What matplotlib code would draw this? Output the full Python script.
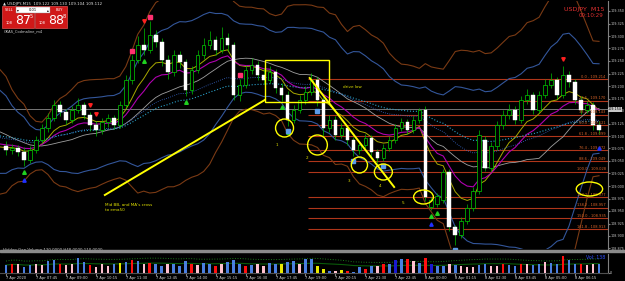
import matplotlib
matplotlib.use('Agg')
import matplotlib.pyplot as plt
from matplotlib.patches import Rectangle, Ellipse
import numpy as np
import pandas as pd

# ---- data (USDJPY M15) ----
pre_closes = [109.180, 109.200, 109.170, 109.150, 109.160, 109.130, 109.120, 109.100, 109.110, 109.090,
              109.080, 109.095, 109.070, 109.060, 109.075, 109.085, 109.065, 109.070, 109.080, 109.075]

opens = [109.080, 109.072, 109.076, 109.068, 109.052, 109.072, 109.092, 109.116, 109.136, 109.162,
         109.148, 109.132, 109.152, 109.162, 109.142, 109.122, 109.112, 109.128, 109.136, 109.122,
         109.162, 109.212, 109.252, 109.282, 109.272, 109.302, 109.288, 109.252, 109.228, 109.262,
         109.248, 109.192, 109.232, 109.262, 109.282, 109.292, 109.272, 109.296, 109.282, 109.182,
         109.202, 109.232, 109.242, 109.222, 109.212, 109.228, 109.196, 109.182, 109.132, 109.152,
         109.172, 109.188, 109.212, 109.172, 109.116, 109.132, 109.102, 109.116, 109.092, 109.072,
         109.082, 109.096, 109.068, 109.056, 109.076, 109.092, 109.116, 109.128, 109.112, 109.132,
         109.152, 108.958, 108.964, 108.972, 109.028, 108.918, 108.902, 108.930, 108.956, 108.990,
         109.092, 109.036, 109.080, 109.122, 109.142, 109.152, 109.132, 109.172, 109.182, 109.152,
         109.182, 109.202, 109.212, 109.182, 109.222, 109.208, 109.172, 109.152, 109.162, 109.122]
highs = [109.090, 109.084, 109.082, 109.078, 109.080, 109.100, 109.124, 109.146, 109.172, 109.170,
         109.154, 109.160, 109.176, 109.168, 109.148, 109.130, 109.136, 109.144, 109.142, 109.170,
         109.222, 109.262, 109.300, 109.316, 109.330, 109.312, 109.296, 109.262, 109.272, 109.270,
         109.254, 109.240, 109.272, 109.296, 109.310, 109.300, 109.318, 109.306, 109.288, 109.214,
         109.242, 109.256, 109.250, 109.236, 109.240, 109.234, 109.206, 109.190, 109.162, 109.182,
         109.200, 109.226, 109.218, 109.178, 109.142, 109.140, 109.126, 109.122, 109.098, 109.090,
         109.104, 109.102, 109.074, 109.084, 109.100, 109.124, 109.136, 109.134, 109.140, 109.156,
         109.160, 108.978, 108.986, 109.034, 109.034, 108.922, 108.938, 108.964, 108.998, 109.112,
         109.100, 109.088, 109.130, 109.152, 109.164, 109.160, 109.180, 109.194, 109.188, 109.190,
         109.214, 109.226, 109.218, 109.240, 109.230, 109.214, 109.180, 109.170, 109.168, 109.130]
lows = [109.062, 109.064, 109.060, 109.040, 109.046, 109.066, 109.086, 109.108, 109.130, 109.140,
        109.124, 109.126, 109.146, 109.134, 109.110, 109.100, 109.104, 109.118, 109.114, 109.116,
        109.156, 109.204, 109.246, 109.262, 109.266, 109.278, 109.240, 109.214, 109.220, 109.236,
        109.180, 109.184, 109.226, 109.254, 109.274, 109.262, 109.266, 109.270, 109.172, 109.170,
        109.196, 109.224, 109.212, 109.204, 109.206, 109.186, 109.170, 109.120, 109.126, 109.146,
        109.164, 109.182, 109.160, 109.100, 109.108, 109.092, 109.096, 109.082, 109.060, 109.064,
        109.076, 109.060, 109.046, 109.050, 109.070, 109.086, 109.110, 109.104, 109.106, 109.126,
        108.970, 108.952, 108.958, 108.966, 108.910, 108.882, 108.896, 108.924, 108.950, 108.984,
        109.030, 109.030, 109.072, 109.114, 109.134, 109.124, 109.126, 109.164, 109.144, 109.146,
        109.176, 109.196, 109.174, 109.176, 109.198, 109.164, 109.144, 109.146, 109.112, 109.104]
closes = [109.072, 109.076, 109.068, 109.052, 109.072, 109.092, 109.116, 109.136, 109.162, 109.148,
          109.132, 109.152, 109.162, 109.142, 109.122, 109.112, 109.128, 109.136, 109.122, 109.162,
          109.212, 109.252, 109.282, 109.272, 109.302, 109.288, 109.252, 109.228, 109.262, 109.248,
          109.192, 109.232, 109.262, 109.282, 109.292, 109.272, 109.296, 109.282, 109.182, 109.202,
          109.232, 109.242, 109.222, 109.212, 109.228, 109.196, 109.182, 109.132, 109.152, 109.172,
          109.188, 109.212, 109.172, 109.116, 109.132, 109.102, 109.116, 109.092, 109.072, 109.082,
          109.096, 109.068, 109.056, 109.076, 109.092, 109.116, 109.128, 109.112, 109.132, 109.152,
          108.978, 108.972, 108.980, 109.028, 108.918, 108.902, 108.930, 108.956, 108.990, 109.102,
          109.036, 109.080, 109.122, 109.142, 109.152, 109.132, 109.172, 109.182, 109.152, 109.182,
          109.202, 109.212, 109.182, 109.222, 109.208, 109.172, 109.152, 109.162, 109.122, 109.112]

volumes = [260, 300, 280, 200, 260, 300, 250, 380, 420, 300,
           260, 300, 480, 360, 260, 200, 280, 240, 300, 320,
           360, 420, 380, 300, 340, 300, 220, 280, 300, 240,
           380, 300, 260, 320, 280, 240, 300, 360, 420, 300,
           220, 260, 300, 240, 320, 280, 300, 360, 380, 300,
           460, 470, 220, 120, 80, 60, 100, 60, 40, 200,
           120, 220, 240, 300, 300, 420, 450, 460, 380, 340,
           480, 300, 240, 220, 280, 260, 240, 200, 180, 260,
           300, 220, 240, 300, 260, 240, 280, 300, 260, 300,
           360, 320, 300, 560, 440, 300, 300, 260, 300, 280]
vol_kind = ("brpbbppbbr" "ppbbrpppby" "brbprbbpbb" "brpbbrpbbb" "rbppbbybbp"
            "bbyybpyrbb" "rbprbdbrpb" "rdbbpbpppb" "bpprbbrpbb" "pbbrbbrppb")

time_idx = [0, 5, 10, 15, 20, 25, 30, 35, 40, 45, 50, 55, 60, 65, 70, 75, 80, 85, 90, 95]
time_labels = ["7 Apr 2020", "7 Apr 07:45", "7 Apr 09:00", "7 Apr 10:15", "7 Apr 11:30",
               "7 Apr 12:45", "7 Apr 14:00", "7 Apr 15:15", "7 Apr 16:30", "7 Apr 17:45",
               "7 Apr 19:00", "7 Apr 20:15", "7 Apr 21:30", "7 Apr 22:45", "8 Apr 00:00",
               "8 Apr 01:15", "8 Apr 02:30", "8 Apr 03:45", "8 Apr 05:00", "8 Apr 06:15"]

price_ticks = [109.350, 109.325, 109.300, 109.275, 109.250, 109.225, 109.200, 109.175, 109.150, 109.125,
               109.100, 109.075, 109.050, 109.025, 109.000, 108.975, 108.950, 108.925, 108.900, 108.875]

fib_levels = [0.0, 23.6, 38.2, 50.0, 61.8, 76.4, 88.6, 100.0, 127.2, 138.2, 150.0, 161.8]
fib_high, fib_low = 109.214, 109.028
fib_start = 51
bid = 109.154

red_down = [14, 15, 23, 93]
pink_sq = [21, 24, 39]
green_up = [3, 23, 30, 46, 47, 71, 72]
blue_sq = [47, 52, 58, 63, 75]
blue_up = [3, 71, 99]

W, H = 625, 281
RX = 608  # right edge of the chart windows, px
fig = plt.figure(figsize=(6.25, 2.81), dpi=100, facecolor='black')

# main price window
ax = fig.add_axes([0, 1 - 249 / H, RX / W, 248 / H])
ax.set_facecolor('black')
ax.set_xlim(-1, 100.5)
ax.set_ylim(108.874, 109.370)
for s in ['top', 'left', 'bottom']:
    ax.spines[s].set_visible(False)
ax.spines['right'].set_color('#808080')
ax.yaxis.tick_right()
ax.set_yticks(price_ticks)
ax.set_yticklabels([f"{p:.3f}" for p in price_ticks])
ax.tick_params(axis='y', colors='#808080', labelcolor='#c8c8c8', labelsize=2.4, length=1.2, pad=0.4)
ax.set_xticks([])

o = np.array(opens); h = np.array(highs); l = np.array(lows); c = np.array(closes)
x = np.arange(len(c))

# indicators
allc = pd.Series(pre_closes + closes)
xi = np.arange(-len(pre_closes), len(closes))
sma = allc.rolling(20, min_periods=1).mean()
sd = allc.rolling(20, min_periods=1).std(ddof=0)
m = xi >= -1
ax.plot(xi[m], (sma + 2 * sd)[m], color='#33569a', lw=0.8, zorder=2)
ax.plot(xi[m], (sma - 2 * sd)[m], color='#33569a', lw=0.8, zorder=2)
ax.plot(xi[m], (sma + 3 * sd)[m], color='#7a3a14', lw=0.8, zorder=2)
ax.plot(xi[m], (sma - 3 * sd)[m], color='#7a3a14', lw=0.8, zorder=2)
ax.plot(xi[m], sma[m], color='#a0a0a0', lw=0.6, zorder=2)
ax.plot(xi[m], allc.ewm(span=8).mean()[m], color='#a8a800', lw=0.7, zorder=2)
ax.plot(xi[m], allc.ewm(span=13).mean()[m], color='#b000b0', lw=0.8, zorder=2)
ax.plot(xi[m], allc.ewm(span=50).mean()[m], color='#2aa0c8', lw=0.8, ls=':', zorder=2)
ax.plot(xi[m], allc.ewm(span=34).mean()[m], color='#3a6ad0', lw=0.6, ls=':', zorder=2)

# bid line
ax.axhline(bid, color='#8a8a8a', lw=0.6, zorder=1)
ax.text(1.0, bid, f"{bid:.3f}", transform=ax.get_yaxis_transform(), fontsize=2.4,
        color='black', va='center', ha='left', clip_on=False,
        bbox=dict(boxstyle='square,pad=0.15', fc='#c8c8c8', ec='none'))

# fibonacci levels
for lvl in fib_levels:
    p = fib_high - lvl / 100 * (fib_high - fib_low)
    ax.hlines(p, fib_start - 0.5, 100.5, color='#b0361a', lw=0.8, zorder=1)
    ax.text(100.1, p + 0.001, f"{lvl:.1f} - {p:.3f}", color='#d8642a', fontsize=2.6,
            ha='right', va='bottom', zorder=5)

# candles
up = c >= o
lo = np.minimum(o, c)
hgt = np.maximum(np.abs(c - o), 0.002)
ax.vlines(x, l, h, color='#00c000', lw=0.5, zorder=3)
ax.bar(x[up], hgt[up], bottom=lo[up], width=0.6, color='black', edgecolor='#00d000', lw=0.5, zorder=4)
ax.bar(x[~up], hgt[~up], bottom=lo[~up], width=0.6, color='white', edgecolor='white', lw=0.3, zorder=4)

# signals
ax.plot(red_down, h[red_down] + 0.014, 'v', color='#ff2020', ms=2.5, zorder=5)
ax.plot(pink_sq, h[pink_sq] + 0.008, 's', color='#ff3070', ms=2.2, zorder=5)
ax.plot(green_up, l[green_up] - 0.012, '^', color='#20d020', ms=2.6, zorder=5)
ax.plot(blue_sq, l[blue_sq] - 0.010, 's', color='#5a9ae8', ms=2.2, zorder=5)
ax.plot(blue_up, l[blue_up] - 0.028, '^', color='#2030ff', ms=2.4, zorder=5)

# yellow drawings
yel = '#ffff00'
ax.add_patch(Rectangle((43.2, 109.168), 10.8, 0.084, fill=False, ec=yel, lw=1.0, zorder=6))
ax.plot([16.5, 43.2], [108.982, 109.172], color=yel, lw=1.4, zorder=6)
ax.plot([50.7, 64.8], [109.216, 108.998], color=yel, lw=1.4, zorder=6)
ax.text(16.5, 108.966, "Mid BB, and MA's cross\nto ema50", color='#e0e000', fontsize=3,
        va='top', ha='left', linespacing=1.4, zorder=6)
ax.text(56.2, 109.198, "drive low", color='#e0e000', fontsize=3, va='center', zorder=6)
for cx, cy, w, hh in [(46.5, 109.116, 3.0, 0.036), (52.0, 109.082, 3.3, 0.040),
                      (59.0, 109.042, 2.7, 0.032), (63.0, 109.028, 3.0, 0.032),
                      (69.7, 108.978, 3.3, 0.028), (97.4, 108.994, 4.4, 0.028)]:
    ax.add_patch(Ellipse((cx, cy), w, hh, fill=False, ec=yel, lw=1.0, zorder=6))
for txt, tx, ty in [("1", 45.2, 109.082), ("2", 50.3, 109.056), ("3", 57.2, 109.010),
                    ("4", 62.5, 109.000), ("5", 66.3, 108.966)]:
    ax.text(tx, ty, txt, color='#e0e000', fontsize=3, ha='center', va='center', zorder=6)

# volume window
axv = fig.add_axes([0, 1 - 273 / H, RX / W, 19 / H])
axv.set_facecolor('black')
axv.set_xlim(-1, 100.5)
axv.set_ylim(0, 620)
for s in ['top', 'left']:
    axv.spines[s].set_visible(False)
axv.spines['right'].set_color('#808080')
axv.spines['bottom'].set_color('#505050')
vcolors = {'b': '#4a7fe0', 'r': '#ff1010', 'p': '#ffc0d0', 'y': '#e8e800', 'd': '#1a1ad0'}
axv.bar(x, volumes, width=0.42, color=[vcolors[k] for k in vol_kind], zorder=3)
vs = pd.Series(volumes)
axv.plot(x, vs.rolling(20, min_periods=1).mean(), color='#0a5a0a', lw=0.8, zorder=2)
axv.plot(x, vs.rolling(20, min_periods=1).mean() * 1.5, color='#1a7a1a', lw=0.7, ls=':', zorder=2)
axv.yaxis.tick_right()
axv.set_yticks([0])
axv.tick_params(axis='y', colors='#808080', labelcolor='#c8c8c8', labelsize=2.4, length=1.2, pad=0.4)
axv.set_xticks(time_idx)
axv.set_xticklabels(time_labels)
for t in axv.get_xticklabels():
    t.set_ha('left')
axv.tick_params(axis='x', colors='#808080', labelcolor='#d8d8d8', labelsize=2.6, length=2, pad=0.5)
axv.text(0.005, 1.08, "Hidden Gap Volume 120.0000 H48.0000 110.0000", transform=axv.transAxes,
         color='#d0d0d0', fontsize=2.8, va='bottom')
axv.text(0.995, 0.95, "Vol: 138", transform=axv.transAxes, color='#3050ff', fontsize=3.4,
         ha='right', va='top')

# overlay in pixels for window furniture
ov = fig.add_axes([0, 0, 1, 1])
ov.set_xlim(0, W)
ov.set_ylim(H, 0)
ov.axis('off')
ov.add_patch(Rectangle((0, 249.5), W, 2.2, color='#8a8a8a'))
ov.text(3, 3.5, "\u25b2 USDJPY,M15  109.122 109.130 109.104 109.112", color='#e0e0e0', fontsize=2.8, va='center')
ov.text(605, 9, "USDJPY  M15", color='#e03030', fontsize=4.6, ha='right', va='center')
ov.text(603, 15.5, "00:10:29", color='#e03030', fontsize=4.0, ha='right', va='center')

# trade panel
ov.add_patch(Rectangle((2, 6), 31.5, 22, fc='#d01818', ec='#ff6060', lw=0.4))
ov.add_patch(Rectangle((35, 6), 31.5, 22, fc='#d01818', ec='#ff6060', lw=0.4))
ov.add_patch(Rectangle((16, 7), 34, 6, fc='white', ec='#909090', lw=0.3))
ov.text(5, 10, "SELL", color='white', fontsize=2.6, va='center')
ov.text(56, 10, "BUY", color='white', fontsize=2.6, va='center')
ov.text(33, 10, "0.01", color='black', fontsize=2.6, va='center', ha='center')
ov.text(18, 10, "\u25be", color='black', fontsize=2.6, va='center', ha='center')
ov.text(48, 10, "\u25b4", color='black', fontsize=2.6, va='center', ha='center')
ov.text(6, 23, "108", color='white', fontsize=2.6, va='center')
ov.text(15, 21, "87", color='white', fontsize=9, va='center')
ov.text(29.5, 16.5, "5", color='white', fontsize=3.5, va='center')
ov.text(39, 23, "108", color='white', fontsize=2.6, va='center')
ov.text(48, 21, "88", color='white', fontsize=9, va='center')
ov.text(62.5, 16.5, "8", color='white', fontsize=3.5, va='center')
ov.text(4, 31, "GKAS_Codmaline_m4", color='#d0d0d0', fontsize=2.6, va='center')

fig.savefig('out.png', dpi=100, facecolor='black')
